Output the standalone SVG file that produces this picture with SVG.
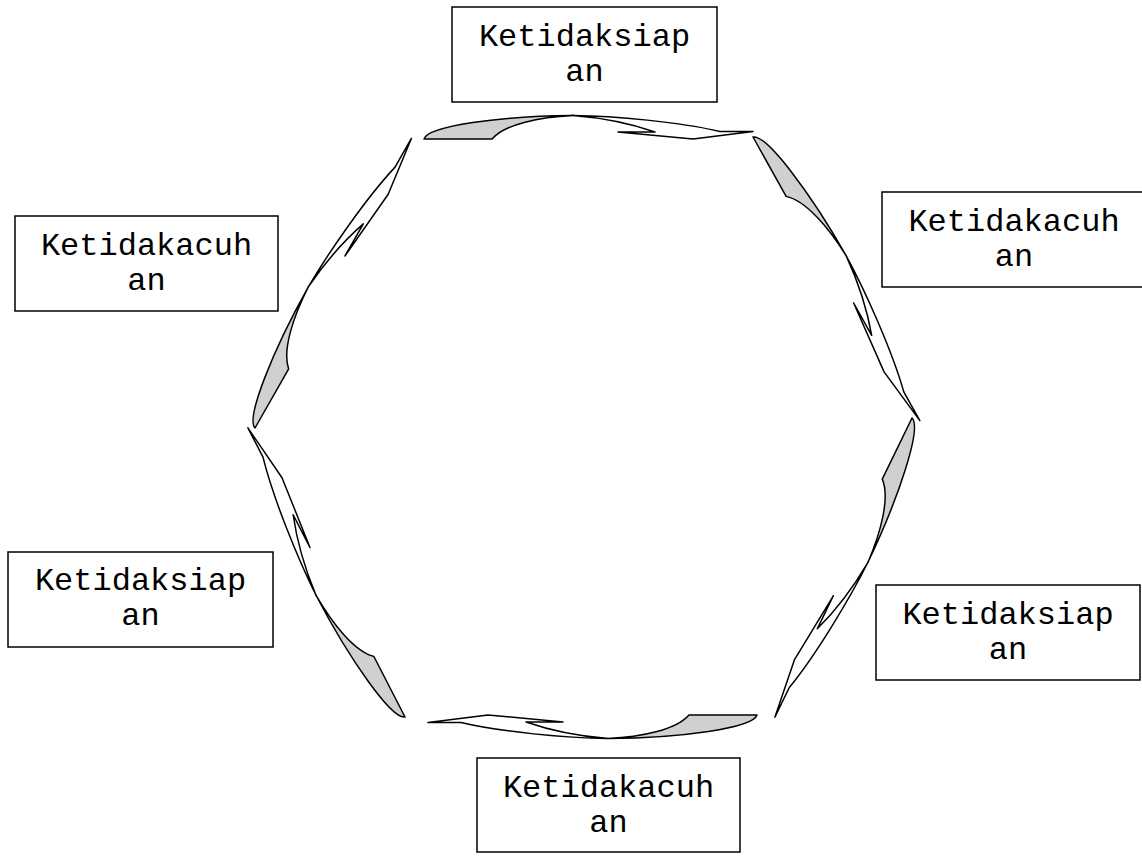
<svg xmlns="http://www.w3.org/2000/svg" width="1142" height="857" viewBox="0 0 1142 857">
<style>
.box rect{fill:#fff;stroke:#000;stroke-width:1.5}
.box text{font-family:"Liberation Mono","Courier New",monospace;font-size:32px;fill:#000;text-anchor:middle}
.gray{fill:#d0d0d0;stroke:#000;stroke-width:1.5;stroke-linejoin:round}
.white{fill:#fff;stroke:#000;stroke-width:1.5;stroke-linejoin:round}
</style>
<defs>
<g id="arrow">
<path class="gray" d="M424,139 C428,126 500,116 573,115.5 C540,117 505,124 492,139 Z"/>
<path class="white" d="M573,115.5 C615,116 680,122 720,131.5 L753,131.5 L693,139 L618,132 L655,132 C635,125 605,118 573,115.5 Z"/>
</g>
</defs>
<rect width="1142" height="857" fill="#fff"/>
<g id="connectors">
<use id="arrow-top" href="#arrow"/>
<use id="arrow-topright" href="#arrow" transform="translate(753,137) rotate(60.84) translate(-424,-139)"/>
<use id="arrow-bottomright" href="#arrow" transform="translate(912,418) rotate(115.93) translate(-424,-139)"/>
<use id="arrow-bottom" href="#arrow" transform="translate(757,715) rotate(180) translate(-424,-139)"/>
<use id="arrow-bottomleft" href="#arrow" transform="translate(405,717) rotate(-117.21) translate(-424,-139)"/>
<use id="arrow-topleft" href="#arrow" transform="translate(255,428) rotate(-60.32) translate(-424,-139)"/>
</g>
<g id="node-top" class="box">
<rect x="452" y="7" width="265" height="95"/>
<text x="584.5" y="46">Ketidaksiap</text>
<text x="584.5" y="81">an</text>
</g>
<g id="node-topright" class="box">
<rect x="882" y="192" width="264" height="95"/>
<text x="1014" y="231">Ketidakacuh</text>
<text x="1014" y="266">an</text>
</g>
<g id="node-bottomright" class="box">
<rect x="876" y="585" width="264" height="95"/>
<text x="1008" y="624">Ketidaksiap</text>
<text x="1008" y="659">an</text>
</g>
<g id="node-bottom" class="box">
<rect x="477" y="758" width="263" height="94"/>
<text x="608.5" y="797">Ketidakacuh</text>
<text x="608.5" y="832">an</text>
</g>
<g id="node-bottomleft" class="box">
<rect x="8" y="552" width="265" height="95"/>
<text x="140.5" y="590">Ketidaksiap</text>
<text x="140.5" y="625">an</text>
</g>
<g id="node-topleft" class="box">
<rect x="15" y="216" width="263" height="95"/>
<text x="146.5" y="255">Ketidakacuh</text>
<text x="146.5" y="290">an</text>
</g>
</svg>
